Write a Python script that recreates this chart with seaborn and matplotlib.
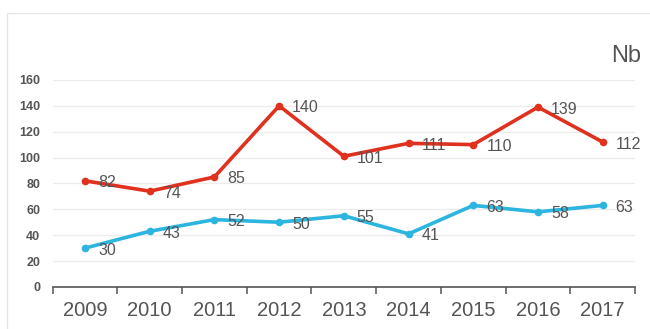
import matplotlib
matplotlib.use("Agg")
import matplotlib.pyplot as plt
from matplotlib.lines import Line2D
import seaborn as sns
import pandas as pd

# Data
years = ["2009", "2010", "2011", "2012", "2013", "2014", "2015", "2016", "2017"]
upper_values = [82, 74, 85, 140, 101, 111, 110, 139, 112]
lower_values = [30, 43, 52, 50, 55, 41, 63, 58, 63]
y_ticks = [0, 20, 40, 60, 80, 100, 120, 140, 160]
unit_label = "Nb"

red = "#e0301e"
blue = "#2bb5df"
text_grey = "#555555"

df = pd.concat([
    pd.DataFrame({"year": years, "value": upper_values, "series": "upper"}),
    pd.DataFrame({"year": years, "value": lower_values, "series": "lower"}),
])

sns.set_theme(style="white")
plt.rcParams["font.family"] = ["Liberation Sans", "DejaVu Sans"]

fig = plt.figure(figsize=(6.5, 3.29), dpi=100)
ax = fig.add_axes([0.081, 0.128, 0.896, 0.629])

sns.lineplot(data=df, x="year", y="value", hue="series",
             palette={"upper": red, "lower": blue}, marker="o",
             markersize=5.5, markeredgewidth=0, linewidth=2.6,
             legend=False, sort=False, ax=ax)

# Value labels to the right of each point
for vals in (upper_values, lower_values):
    for i, v in enumerate(vals):
        ax.annotate(str(v), (i, v), xytext=(13, -2), textcoords="offset pixels",
                    ha="left", va="center", fontsize=11.5, color=text_grey)

ax.set_xlim(-0.5, len(years) - 0.5)
ax.set_ylim(0, 160)
ax.set_yticks(y_ticks)
ax.set_yticklabels([str(t) for t in y_ticks], fontsize=9, fontweight="bold",
                   color=text_grey)
ax.tick_params(axis="y", length=0, pad=9)

# Category labels centred, tick marks on category boundaries
ax.set_xticks(range(len(years)))
ax.set_xticklabels(years, fontsize=14.5, color=text_grey)
ax.set_xticks([i - 0.5 for i in range(len(years) + 1)], minor=True)
ax.tick_params(axis="x", which="major", length=0, pad=10)
ax.tick_params(axis="x", which="minor", length=5, width=1.1, color=text_grey,
               direction="out", bottom=True)
ax.set_xlabel("")
ax.set_ylabel("")

ax.grid(axis="y", color="#ececec", linewidth=1)
ax.set_axisbelow(True)
for side in ("top", "right", "left"):
    ax.spines[side].set_visible(False)
ax.spines["bottom"].set_color(text_grey)
ax.spines["bottom"].set_linewidth(1.2)

fig.text(0.987, 0.83, unit_label, ha="right", va="center", fontsize=17,
         color=text_grey)

# Light card frame
fig.add_artist(Line2D([7 / 650, 1], [1 - 13 / 329, 1 - 13 / 329],
                      transform=fig.transFigure, color="#e6e6e6", linewidth=1))
fig.add_artist(Line2D([7 / 650, 7 / 650], [0, 1 - 13 / 329],
                      transform=fig.transFigure, color="#e6e6e6", linewidth=1))

fig.savefig("out.png", dpi=100)
